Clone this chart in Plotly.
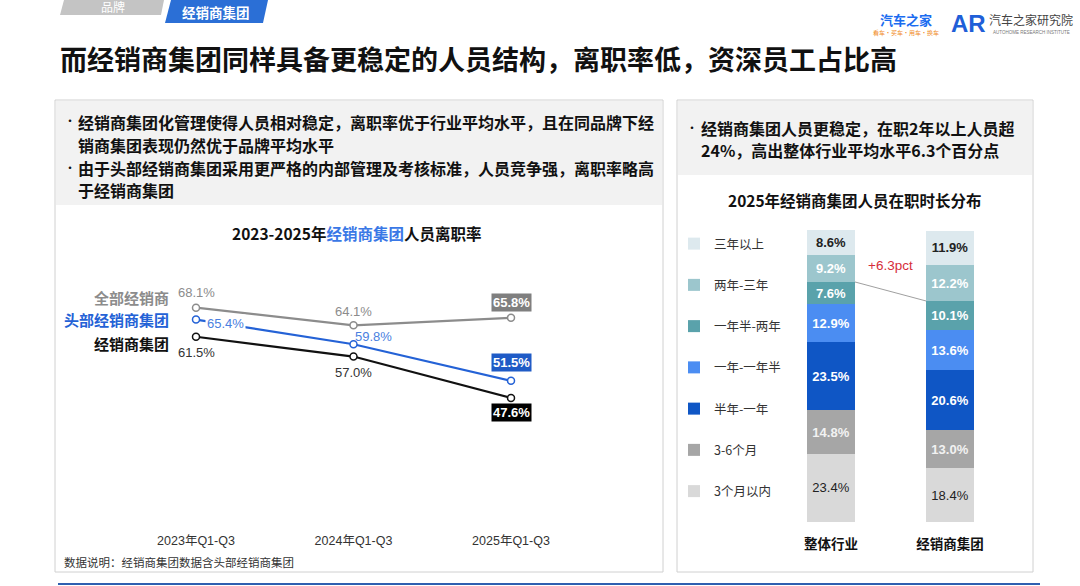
import plotly.graph_objects as go

W, H = 1080, 586
FONT = "Liberation Sans, Noto Sans CJK SC, sans-serif"
CJK = "Noto Sans CJK SC, Liberation Sans, sans-serif"

# ---------------- data ----------------
periods = ["2023年Q1-Q3", "2024年Q1-Q3", "2025年Q1-Q3"]
series_names = ["全部经销商", "头部经销商集团", "经销商集团"]
all_dealers = [68.1, 64.1, 65.8]
top_groups = [65.4, 59.8, 51.5]
dealer_groups = [61.5, 57.0, 47.6]

bar_cats = ["整体行业", "经销商集团"]
tenure_labels = ["3个月以内", "3-6个月", "半年-一年", "一年-一年半", "一年半-两年", "两年-三年", "三年以上"]
industry_vals = [23.4, 14.8, 23.5, 12.9, 7.6, 9.2, 8.6]
group_vals = [18.4, 13.0, 20.6, 13.6, 10.1, 12.2, 11.9]
diff_label = "+6.3pct"


def px(x):
    return x / W


def py(y):
    return 1 - y / H


fig = go.Figure()

# ---------------- line chart ----------------
line_colors = ["#8c8c8c", "#2462d6", "#111111"]
line_data = [all_dealers, top_groups, dealer_groups]
for name, vals, col in zip(series_names, line_data, line_colors):
    fig.add_trace(go.Scatter(
        x=periods, y=vals, mode="lines+markers", name=name, showlegend=False,
        line=dict(color=col, width=2.2),
        marker=dict(size=7, color="white", line=dict(color=col, width=1.5)),
        xaxis="x", yaxis="y", hoverinfo="skip"))

lx0, lx1 = 120, 590
ly0, ly1 = 260, 525
ppu_x = 157.5
ppu_y = 4.4
fig.update_layout(
    xaxis=dict(domain=[px(lx0), px(lx1)], anchor="y",
               range=[-(196 - lx0) / ppu_x, (lx1 - 196) / ppu_x],
               showgrid=False, zeroline=False, showline=False, ticks="",
               tickfont=dict(family=FONT, size=12.5, color="#333333"),
               ticklabelstandoff=6),
    yaxis=dict(domain=[py(ly1), py(ly0)], anchor="x",
               range=[68.1 - (ly1 - 307.7) / ppu_y, 68.1 + (307.7 - ly0) / ppu_y],
               visible=False),
)

ann = []


def lbl(xi, v, text, color, xs=0, ys=0, bg=None, bold=False, size=13):
    t = f"<b>{text}</b>" if bold else text
    d = dict(x=periods[xi], y=v, xref="x", yref="y", text=t, showarrow=False,
             xanchor="center", yanchor="middle",
             xshift=xs, yshift=ys, font=dict(family=FONT, size=size, color=color))
    if bg:
        d.update(bgcolor=bg, borderpad=1)
    ann.append(d)


lbl(0, all_dealers[0], f"{all_dealers[0]:.1f}%", "#8c8c8c", 0, 15)
lbl(1, all_dealers[1], f"{all_dealers[1]:.1f}%", "#8c8c8c", 0, 14)
lbl(2, all_dealers[2], f"{all_dealers[2]:.1f}%", "white", 0, 15, bg="#7f7f7f", bold=True)
lbl(0, top_groups[0], f"{top_groups[0]:.1f}%", "#4a7fe0", 29, -4, bg="white")
lbl(1, top_groups[1], f"{top_groups[1]:.1f}%", "#4a7fe0", 20, 8)
lbl(2, top_groups[2], f"{top_groups[2]:.1f}%", "white", 0, 18, bg="#1f5bc6", bold=True)
lbl(0, dealer_groups[0], f"{dealer_groups[0]:.1f}%", "#333333", 0, -16)
lbl(1, dealer_groups[1], f"{dealer_groups[1]:.1f}%", "#333333", 0, -16)
lbl(2, dealer_groups[2], f"{dealer_groups[2]:.1f}%", "white", 0, -15, bg="#000000", bold=True)

for name, vals, col, ys in zip(series_names, line_data,
                               ["#8c8c8c", "#2462d6", "#111111"], [10, 0, -7]):
    ann.append(dict(x=px(171), y=vals[0], xref="paper", yref="y", xanchor="right",
                    yanchor="middle", yshift=ys, text=f"<b>{name}</b>", showarrow=False,
                    font=dict(family=CJK, size=15, color=col)))

# ---------------- stacked bar chart ----------------
bar_colors = ["#d9d9d9", "#a6a6a6", "#0f56c5", "#4b8df2", "#5aa2ab", "#9cc6cd", "#dde9ee"]
text_colors = ["#222222", "#f2f2f2", "white", "white", "white", "white", "#222222"]
bw = 48 / 119
for i, (lab, iv, gv, bc, tc) in enumerate(zip(tenure_labels, industry_vals, group_vals,
                                               bar_colors, text_colors)):
    if i == 0:
        texts = [f"{iv:.1f}%", f"{gv:.1f}%"]
    else:
        texts = [f"<b>{iv:.1f}%</b>", f"<b>{gv:.1f}%</b>"]
    fig.add_trace(go.Bar(
        x=[0, 1], y=[iv, gv], name=lab, width=bw, legendgroup=lab,
        legendrank=100 - i,
        marker=dict(color=bc, line=dict(width=0)),
        text=texts, textposition="inside",
        insidetextanchor="middle", textangle=0,
        textfont=dict(family=FONT, size=13, color=tc),
        xaxis="x2", yaxis="y2", hoverinfo="skip"))

bx0, bx1 = 690, 1020
by0, by1 = 222, 522
ppu_bx = 119
ppu_by = 2.92
fig.update_layout(
    barmode="stack",
    xaxis2=dict(domain=[px(bx0), px(bx1)], anchor="y2",
                range=[-(831 - bx0) / ppu_bx, (bx1 - 831) / ppu_bx],
                tickvals=[0, 1], ticktext=[f"<b>{c}</b>" for c in bar_cats],
                showgrid=False, zeroline=False, showline=False, ticks="",
                tickfont=dict(family=CJK, size=13.5, color="#111111"),
                ticklabelstandoff=12),
    yaxis2=dict(domain=[py(by1), py(by0)], anchor="x2",
                range=[0, (by1 - by0) / ppu_by], visible=False),
    legend=dict(x=px(674), y=py(229), xanchor="left", yanchor="top",
                traceorder="grouped", tracegroupgap=22,
                font=dict(family=CJK, size=12.5, color="#333333"),
                bgcolor="rgba(0,0,0,0)", itemwidth=30),
)

cum_ind = sum(industry_vals[:5])
cum_grp = sum(group_vals[:5])
shapes = []
shapes.append(dict(type="line", xref="x2", yref="y2", x0=bw / 2, y0=cum_ind,
                   x1=1 - bw / 2, y1=cum_grp, line=dict(color="#a0a0a0", width=1)))
ann.append(dict(x=0.5, y=cum_ind + 5.5, xref="x2", yref="y2",
                xanchor="center", yanchor="middle",
                text=diff_label, showarrow=False,
                font=dict(family=FONT, size=13.5, color="#d62d3a")))


# ---------------- decorations ----------------
def rect(x0, y0, x1, y1, fill=None, line=None, lw=1):
    shapes.append(dict(type="rect", xref="paper", yref="paper", x0=px(x0), x1=px(x1),
                       y0=py(y1), y1=py(y0), fillcolor=fill or "rgba(0,0,0,0)",
                       line=dict(color=line or "rgba(0,0,0,0)", width=lw if line else 0),
                       layer="below"))


rect(56, 101, 662, 205, fill="#f2f2f2")
rect(678, 101, 1032, 175, fill="#f2f2f2")
rect(55, 100, 663, 572, line="#d0d0d0", lw=1)
rect(677, 100, 1033, 572, line="#d0d0d0", lw=1)
shapes.append(dict(type="line", xref="paper", yref="paper", x0=px(58), x1=px(1040),
                   y0=py(584), y1=py(584), line=dict(color="#2f5fb0", width=2)))


def path_poly(pts, fill):
    d = "M " + " L ".join(f"{px(x)},{py(y)}" for x, y in pts) + " Z"
    shapes.append(dict(type="path", xref="paper", yref="paper", path=d,
                       fillcolor=fill, line=dict(width=0)))


path_poly([(64, 0), (164, 0), (161, 15), (60, 15)], "#c4c4c4")
path_poly([(171, 0), (268, 0), (263, 23), (165, 23)], "#2b6fd6")


def txt(x, y, t, size=16, color="#111111", bold=True, family=CJK, anchor="left"):
    ann.append(dict(x=px(x), y=py(y), xref="paper", yref="paper", xanchor=anchor,
                    yanchor="middle",
                    text=f"<b>{t}</b>" if bold else t, showarrow=False,
                    font=dict(family=family, size=size, color=color)))


txt(113, 7, "品牌", size=12, color="white", bold=False, anchor="center")
txt(216, 12, "经销商集团", size=13.5, color="white", anchor="center")

txt(58, 58, "而经销商集团同样具备更稳定的人员结构，离职率低，资深员工占比高", size=27)

# logos
txt(906, 19, "汽车之家", size=13, color="#1a6cf0", anchor="center")
txt(906, 32, "看车·买车·用车·换车", size=6, color="#f08a1c", bold=False, anchor="center")
txt(968, 24, "AR", size=24, color="#1f5fd8", family="Liberation Sans", anchor="center")
txt(1031, 20, "汽车之家研究院", size=12, color="#444444", bold=False, anchor="center")
txt(1031, 32, "AUTOHOME RESEARCH INSTITUTE", size=4.5, color="#777777", bold=False,
    family=FONT, anchor="center")

txt(63, 121, "•", size=10)
txt(76, 122, "经销商集团化管理使得人员相对稳定，离职率优于行业平均水平，且在同品牌下经")
txt(76, 145, "销商集团表现仍然优于品牌平均水平")
txt(63, 167, "•", size=10)
txt(76, 168, "由于头部经销商集团采用更严格的内部管理及考核标准，人员竞争强，离职率略高")
txt(76, 190, "于经销商集团")

txt(685, 127, "•", size=10)
txt(699, 128, "经销商集团人员更稳定，在职2年以上人员超")
txt(699, 150, "24%，高出整体行业平均水平6.3个百分点")

txt(356, 233, "2023-2025年<span style='color:#3a78e6'>经销商集团</span>人员离职率",
    size=15.5, anchor="center")
txt(855, 200, "2025年经销商集团人员在职时长分布", size=15.5, anchor="center")

txt(62, 562, "数据说明：经销商集团数据含头部经销商集团", size=11.5, color="#333333", bold=False)

fig.update_layout(
    width=W, height=H, margin=dict(l=0, r=0, t=0, b=0),
    paper_bgcolor="white", plot_bgcolor="white",
    annotations=ann, shapes=shapes, showlegend=True,
)

fig.write_html("out.html", config={"displayModeBar": False},
               post_script="document.body.style.margin='0px';document.body.style.overflow='hidden';")
